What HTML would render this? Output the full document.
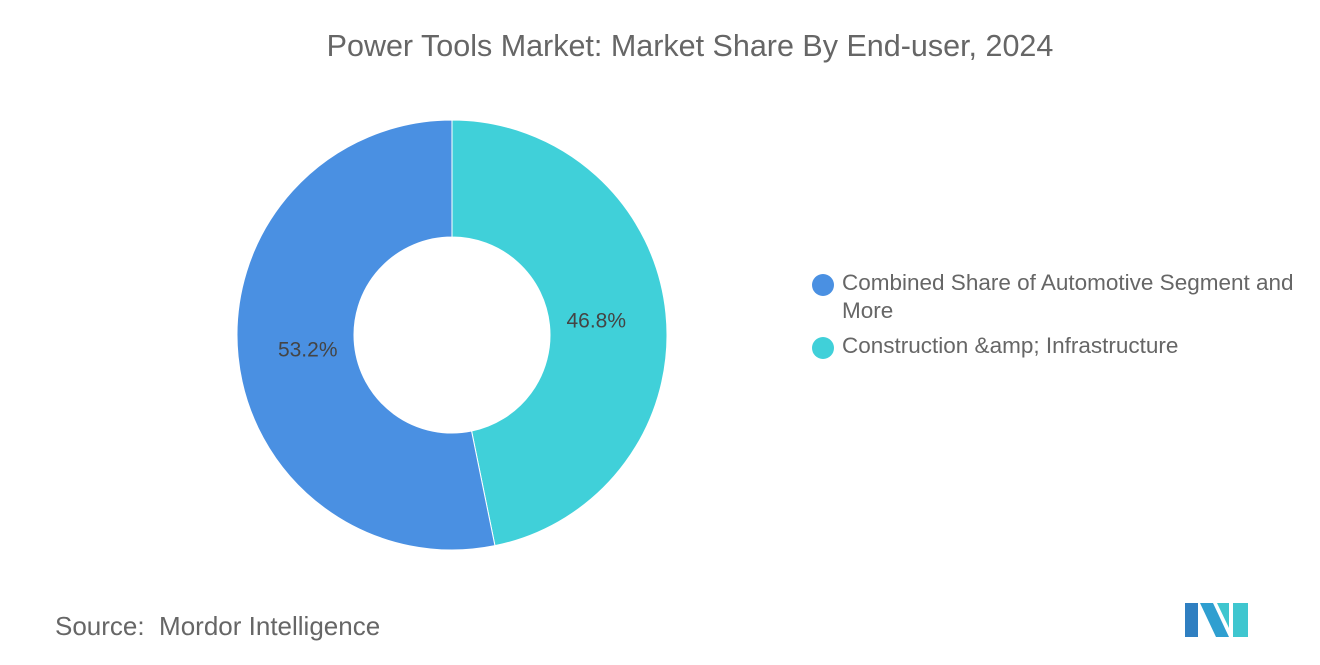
<!DOCTYPE html>
<html><head><meta charset="utf-8"><style>
body{margin:0;width:1320px;height:665px;background:#fff;font-family:"Liberation Sans",sans-serif;overflow:hidden;position:relative}
.t{position:absolute;color:#555}
</style></head><body>
<div class="t" style="left:0;width:1380px;top:29px;text-align:center;font-size:30.5px;color:#666">Power Tools Market: Market Share By End-user, 2024</div>
<svg id="chart" width="1320" height="665" style="position:absolute;left:0;top:0"></svg>
<div>
<div style="position:absolute;left:812px;top:269px;font-size:22.5px;color:#666;line-height:28px;width:520px">
<span style="position:absolute;left:0;top:5px;width:22px;height:22px;border-radius:50%;background:#4a90e2"></span>
<span style="margin-left:30px">Combined Share of Automotive Segment and</span><br><span style="margin-left:30px">More</span></div>
<div style="position:absolute;left:812px;top:332px;font-size:22.5px;color:#666;line-height:28px">
<span style="position:absolute;left:0;top:5px;width:22px;height:22px;border-radius:50%;background:#40d0d9"></span>
<span style="margin-left:30px">Construction &amp;amp; Infrastructure</span></div>
</div>
<div class="t" style="left:55px;top:611px;font-size:26px;color:#666">Source:&nbsp; Mordor Intelligence</div>
<svg width="70" height="40" style="position:absolute;left:1183px;top:600px">
<polygon points="2,3 15,3 15,37 2,37" fill="#2f7fc1"/><polygon points="17,3 30,3 46,37 33,37" fill="#2f9fd0"/>
<polygon points="34,3 46,3 46,28" fill="#3fc6cf"/><polygon points="50,3 65,3 65,37 50,37" fill="#3fc6cf"/>
</svg>
<script>
const categories=["Construction & Infrastructure","Combined Share of Automotive Segment and More"];
const values=[46.8,53.2];
const colors=["#40d0d9","#4a90e2"];
const svg=document.getElementById('chart');
const cx=452,cy=335,R=215,r=98;
const total=values.reduce((a,b)=>a+b,0);
let a0=0;
function pt(a,rad){return [cx+rad*Math.sin(a),cy-rad*Math.cos(a)];}
values.forEach((v,i)=>{
 const a1=a0+v/total*2*Math.PI;
 const large=(a1-a0)>Math.PI?1:0;
 const [x0,y0]=pt(a0,R),[x1,y1]=pt(a1,R),[x2,y2]=pt(a1,r),[x3,y3]=pt(a0,r);
 const p=document.createElementNS('http://www.w3.org/2000/svg','path');
 p.setAttribute('d',`M${x0},${y0}A${R},${R} 0 ${large} 1 ${x1},${y1}L${x2},${y2}A${r},${r} 0 ${large} 0 ${x3},${y3}Z`);
 p.setAttribute('fill',colors[i]);
 p.setAttribute('stroke','#fff');p.setAttribute('stroke-width','1');
 
 
 svg.appendChild(p);
 const am=(a0+a1)/2;const [lx,ly]=pt(am,145);
 const t=document.createElementNS('http://www.w3.org/2000/svg','text');
 t.setAttribute('x',lx);t.setAttribute('y',ly+7);t.setAttribute('text-anchor','middle');
 t.setAttribute('font-size','21');t.setAttribute('fill','#444');t.setAttribute('font-family','Liberation Sans, sans-serif');
 t.textContent=v.toFixed(1)+'%';
 
 
 svg.appendChild(t);
 a0=a1;
});
</script>
</body></html>
